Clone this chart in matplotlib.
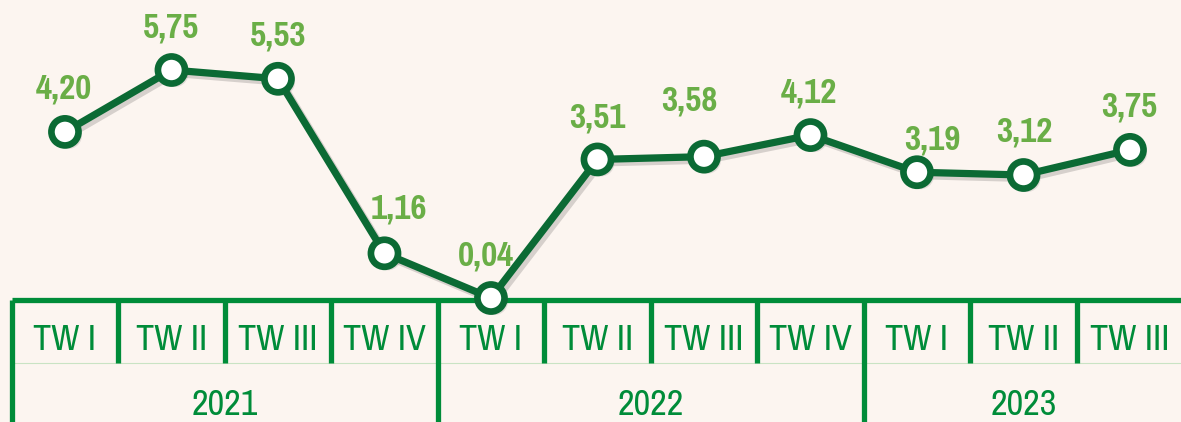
import matplotlib
matplotlib.use("Agg")
import matplotlib.pyplot as plt
import matplotlib.patheffects as pe

quarters = ["TW I", "TW II", "TW III", "TW IV", "TW I", "TW II", "TW III", "TW IV", "TW I", "TW II", "TW III"]
years = ["2021", "2022", "2023"]
year_counts = [4, 4, 3]
values = [4.20, 5.75, 5.53, 1.16, 0.04, 3.51, 3.58, 4.12, 3.19, 3.12, 3.75]
# label offsets from each point, in pixels (dx, dy)
label_offsets = [(-1, 43), (0, 43), (0, 43), (14, 45), (-5, 43), (0, 42),
                 (-15, 56), (-2, 43), (15, 33), (1, 44), (-1, 43)]

BG = "#fcf5f0"
LINE = "#0b6a34"
LABEL = "#6aae47"
TABLE = "#008c39"

fig = plt.figure(figsize=(11.81, 4.22), dpi=100, facecolor=BG)
ax = fig.add_axes([0, 0, 1, 1])
ax.set_facecolor(BG)
ax.set_xlim(-0.610, 10.479)
ax.set_ylim(-3.065, 7.503)
ax.axis("off")

x = list(range(len(values)))
shadow = [pe.SimpleLineShadow(offset=(2.5, -2.5), shadow_color="black", alpha=0.15), pe.Normal()]
ax.plot(x, values, color=LINE, lw=5.2, solid_capstyle="round", zorder=3, path_effects=shadow)
ax.plot(x, values, linestyle="none", marker="o", markersize=19.5, markerfacecolor="white",
        markeredgecolor=LINE, markeredgewidth=4.8, zorder=4,
        path_effects=[pe.SimplePatchShadow(offset=(2.5, -2.5), alpha=0.15), pe.Normal()])

fonts = ["Liberation Sans Narrow", "Arimo Narrow", "Pragati Narrow", "Archivo Narrow", "Liberation Sans", "DejaVu Sans"]
for xi, v, off in zip(x, values, label_offsets):
    ax.annotate(f"{v:.2f}".replace(".", ","), (xi, v), xytext=off, textcoords="offset pixels",
                ha="center", va="center", fontsize=27.5, fontweight="bold", color=LABEL,
                family=fonts, zorder=5)

# table
n = len(quarters)
right = n
ax.plot([-0.5, right], [0, 0], color=TABLE, lw=3.8, solid_capstyle="butt", zorder=2)
ax.plot([-0.5, right], [-1.58, -1.58], color="#c9e3c4", lw=0.8, zorder=1)
bounds = [-0.5]
for c in year_counts:
    bounds.append(bounds[-1] + c)
for i in range(n - 1):
    b = i + 0.5
    if b in bounds:
        continue
    ax.plot([b, b], [0, -1.6], color=TABLE, lw=3.8, solid_capstyle="butt", zorder=2)
for b in bounds:
    ax.plot([b, b], [0, -3.2], color=TABLE, lw=3.8, solid_capstyle="butt", zorder=2)
for xi, q in zip(x, quarters):
    ax.text(xi, -1.0, q, ha="center", va="center", fontsize=28.5, color=TABLE, family=fonts)
for k, yr in enumerate(years):
    ax.text((bounds[k] + bounds[k + 1]) / 2, -2.63, yr, ha="center", va="center",
            fontsize=28.5, color=TABLE, family=fonts)

fig.savefig("out.png", dpi=100, facecolor=BG)
